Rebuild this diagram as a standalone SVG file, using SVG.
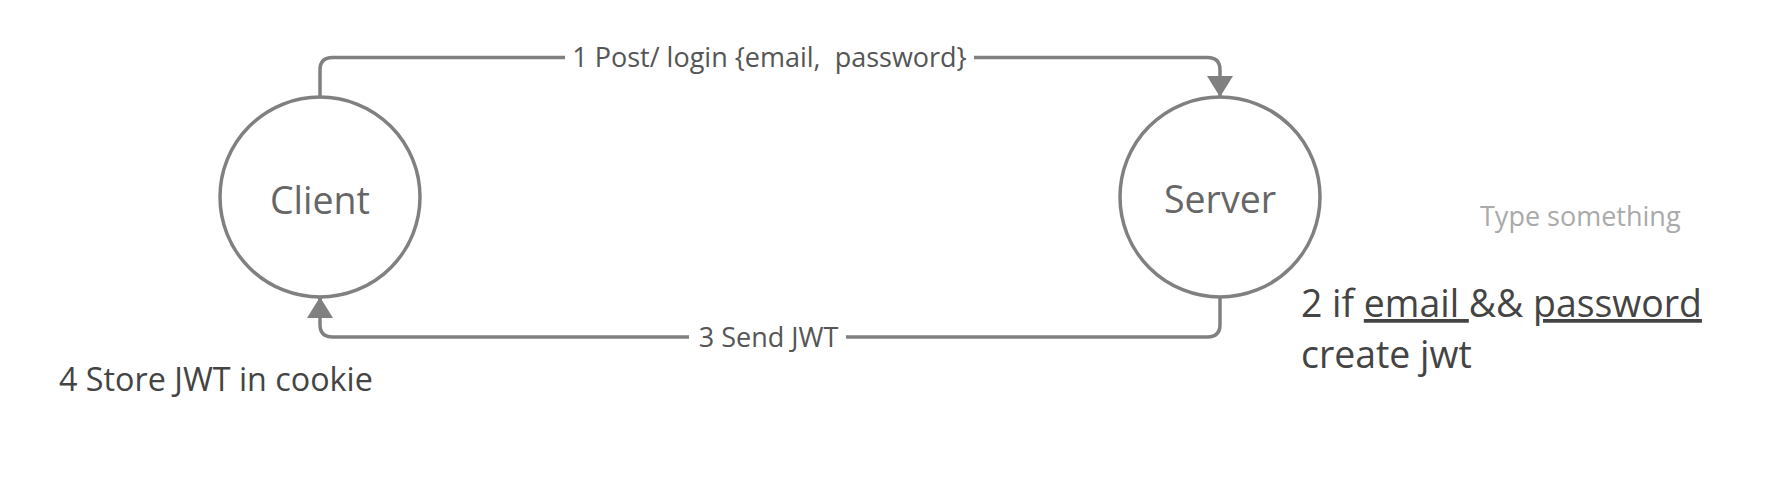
<svg xmlns="http://www.w3.org/2000/svg" width="1780" height="478" viewBox="0 0 1780 478">
<style>
.node{fill:#fff;stroke:#808080;stroke-width:3.5}
.conn{fill:none;stroke:#808080;stroke-width:3.5}
.nt{font-family:"Open Sans",sans-serif;font-size:37.5px;fill:#666;text-anchor:middle}
.lbl{font-family:"Open Sans",sans-serif;font-size:27px;fill:#555;text-anchor:middle;white-space:pre}
.txt{font-family:"Open Sans",sans-serif;fill:#444}
</style>
<defs>
<marker id="arr" markerUnits="userSpaceOnUse" markerWidth="24" markerHeight="28" refX="20" refY="13" orient="auto">
<path d="M0,0 L21,13 L0,26 Z" fill="#808080"/>
</marker>
</defs>
<rect width="1780" height="478" fill="#fff"/>
<g id="connectors">
<path class="conn" d="M320,97 V70 Q320,57.5 332.5,57.5 H1207.5 Q1220,57.5 1220,70 V96" marker-end="url(#arr)"/>
<rect x="565" y="42" width="409" height="32" fill="#fff"/>
<text class="lbl" x="769.5" y="67" xml:space="preserve">1 Post/ login {email,  password}</text>
<path class="conn" d="M1220,297 V324.5 Q1220,337 1207.5,337 H332.5 Q320,337 320,324.5 V298" marker-end="url(#arr)"/>
<rect x="689" y="321" width="157" height="32" fill="#fff"/>
<text class="lbl" x="768.5" y="347">3 Send JWT</text>
</g>
<g id="client">
<circle class="node" cx="320" cy="197" r="100"/>
<text class="nt" x="320" y="214">Client</text>
</g>
<g id="server">
<circle class="node" cx="1220" cy="197" r="100"/>
<text class="nt" x="1220" y="213">Server</text>
</g>
<g id="note-store">
<text class="txt" x="59" y="391" font-size="32.3">4 Store JWT in cookie</text>
</g>
<g id="note-type">
<text x="1480" y="226" font-family="Open Sans, sans-serif" font-size="27" fill="#aaa">Type something</text>
</g>
<g id="note-create">
<text class="txt" font-size="37.4"><tspan x="1301" y="317">2 if <tspan text-decoration="underline">email </tspan>&amp;&amp; <tspan text-decoration="underline">password</tspan></tspan><tspan x="1301" y="368">create jwt</tspan></text>
</g>
</svg>
